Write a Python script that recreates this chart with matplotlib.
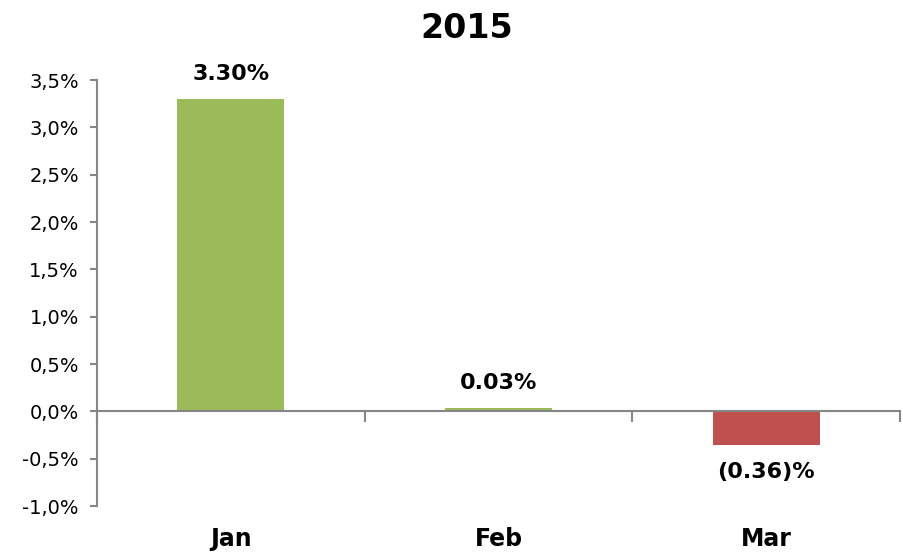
import matplotlib
matplotlib.use("Agg")
import matplotlib.pyplot as plt
import matplotlib.transforms as mtransforms
import numpy as np

categories = ["Jan", "Feb", "Mar"]
values = [3.30, 0.03, -0.36]
value_labels = ["3.30%", "0.03%", "(0.36)%"]
yticks = [-1.0, -0.5, 0.0, 0.5, 1.0, 1.5, 2.0, 2.5, 3.0, 3.5]
ytick_labels = ["-1,0%", "-0,5%", "0,0%", "0,5%", "1,0%", "1,5%", "2,0%", "2,5%", "3,0%", "3,5%"]
title = "2015"

green = "#9BBB59"
red = "#C0504D"
axis_gray = "#868686"

fig = plt.figure(figsize=(9.04, 5.55), dpi=100)
ax = fig.add_axes([97/904, 49/555, 803/904, 426/555])

x = np.arange(len(categories))
colors = [green if v >= 0 else red for v in values]
ax.bar(x, values, width=0.4, color=colors, zorder=2)

ax.set_xlim(-0.5, len(categories) - 0.5)
ax.set_ylim(-1.0, 3.5)
ax.set_yticks(yticks)
ax.set_yticklabels(ytick_labels, fontsize=14)

for s in ["top", "right"]:
    ax.spines[s].set_visible(False)
ax.spines["bottom"].set_position(("data", 0))
ax.spines["bottom"].set_color(axis_gray)
ax.spines["bottom"].set_linewidth(1.5)
ax.spines["left"].set_color(axis_gray)
ax.spines["left"].set_linewidth(1.5)
ax.tick_params(axis="y", length=5, width=1.5, color=axis_gray, pad=8)

ax.set_xticks(np.arange(-0.5, len(categories), 1.0))
ax.set_xticklabels([])
ax.tick_params(axis="x", length=8, width=1.5, color=axis_gray, direction="out")

trans = mtransforms.blended_transform_factory(ax.transData, ax.transAxes)
for xi, c in zip(x, categories):
    ax.text(xi, -0.078, c, transform=trans, ha="center", va="center",
            fontsize=17, fontweight="bold")

for xi, v, lab in zip(x, values, value_labels):
    if v >= 0:
        ax.annotate(lab, (xi, v), xytext=(0, 11), textcoords="offset points",
                    ha="center", va="bottom", fontsize=16, fontweight="bold")
    else:
        ax.annotate(lab, (xi, v), xytext=(0, -12), textcoords="offset points",
                    ha="center", va="top", fontsize=16, fontweight="bold")

fig.text(467/904, 1 - 28/555, title, ha="center", va="center",
         fontsize=24, fontweight="bold")

fig.savefig("out.png", dpi=100)
